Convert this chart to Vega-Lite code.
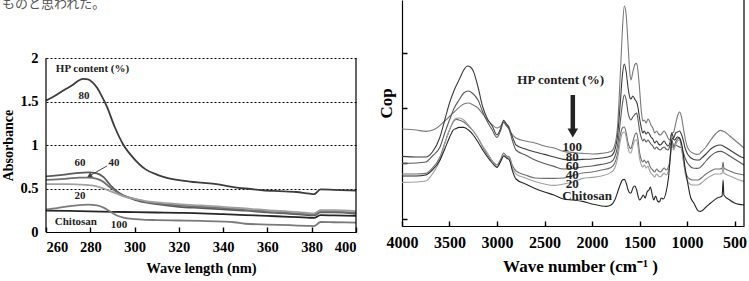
{
  "$schema": "https://vega.github.io/schema/vega-lite/v6.json",
  "autosize": {"type": "none"},
  "padding": {"left": 46, "top": 0, "right": 703, "bottom": 281},
  "background": "white",
  "title": {"text": "ものと思われた。", "anchor": "start", "frame": "bounds", "offset": -12, "font": "Noto Sans CJK JP", "fontSize": 13, "fontWeight": "normal", "color": "#555555"},
  "config": {
    "view": {"stroke": null},
    "font": "Liberation Serif",
    "axis": {"labelFont": "Liberation Serif", "labelFontWeight": "bold", "labelColor": "#000", "titleFont": "Liberation Serif", "titleFontWeight": "bold", "titleColor": "#000", "domainColor": "#000", "tickColor": "#000", "domainWidth": 1.2, "tickWidth": 1.4, "grid": false}
  },
  "bounds": "flush",
  "spacing": 46,
  "datasets": {
    "uv": [
      {"series":"80","nm":260,"abs":1.51},{"series":"80","nm":265,"abs":1.58},{"series":"80","nm":268,"abs":1.63},{"series":"80","nm":272,"abs":1.69},{"series":"80","nm":275,"abs":1.745},{"series":"80","nm":277,"abs":1.76},{"series":"80","nm":279,"abs":1.755},{"series":"80","nm":281,"abs":1.72},{"series":"80","nm":283,"abs":1.66},{"series":"80","nm":285,"abs":1.57},{"series":"80","nm":287.5,"abs":1.44},{"series":"80","nm":291,"abs":1.21},{"series":"80","nm":295,"abs":1.0},{"series":"80","nm":299.5,"abs":0.85},{"series":"80","nm":305,"abs":0.72},{"series":"80","nm":310,"abs":0.66},{"series":"80","nm":315,"abs":0.62},{"series":"80","nm":325,"abs":0.58},{"series":"80","nm":330,"abs":0.567},{"series":"80","nm":337,"abs":0.55},{"series":"80","nm":344,"abs":0.52},{"series":"80","nm":350,"abs":0.5},{"series":"80","nm":358,"abs":0.48},{"series":"80","nm":365,"abs":0.47},{"series":"80","nm":373,"abs":0.46},{"series":"80","nm":379,"abs":0.44},{"series":"80","nm":381,"abs":0.435},{"series":"80","nm":384,"abs":0.49},{"series":"80","nm":390,"abs":0.485},{"series":"80","nm":400,"abs":0.475},
      {"series":"60","nm":260,"abs":0.64},{"series":"60","nm":265,"abs":0.65},{"series":"60","nm":270,"abs":0.665},{"series":"60","nm":275,"abs":0.68},{"series":"60","nm":279,"abs":0.685},{"series":"60","nm":283,"abs":0.675},{"series":"60","nm":286,"abs":0.63},{"series":"60","nm":289,"abs":0.54},{"series":"60","nm":292,"abs":0.47},{"series":"60","nm":295,"abs":0.42},{"series":"60","nm":300,"abs":0.37},{"series":"60","nm":305,"abs":0.34},{"series":"60","nm":310,"abs":0.32},{"series":"60","nm":320,"abs":0.29},{"series":"60","nm":330,"abs":0.275},{"series":"60","nm":340,"abs":0.26},{"series":"60","nm":350,"abs":0.245},{"series":"60","nm":360,"abs":0.225},{"series":"60","nm":370,"abs":0.21},{"series":"60","nm":378,"abs":0.195},{"series":"60","nm":381,"abs":0.19},{"series":"60","nm":384,"abs":0.225},{"series":"60","nm":390,"abs":0.225},{"series":"60","nm":400,"abs":0.21},
      {"series":"40","nm":260,"abs":0.6},{"series":"40","nm":265,"abs":0.605},{"series":"40","nm":270,"abs":0.615},{"series":"40","nm":275,"abs":0.625},{"series":"40","nm":279,"abs":0.625},{"series":"40","nm":283,"abs":0.61},{"series":"40","nm":286,"abs":0.575},{"series":"40","nm":289,"abs":0.51},{"series":"40","nm":292,"abs":0.46},{"series":"40","nm":295,"abs":0.42},{"series":"40","nm":300,"abs":0.38},{"series":"40","nm":305,"abs":0.35},{"series":"40","nm":310,"abs":0.33},{"series":"40","nm":320,"abs":0.305},{"series":"40","nm":330,"abs":0.29},{"series":"40","nm":340,"abs":0.275},{"series":"40","nm":350,"abs":0.255},{"series":"40","nm":360,"abs":0.235},{"series":"40","nm":370,"abs":0.22},{"series":"40","nm":378,"abs":0.205},{"series":"40","nm":381,"abs":0.2},{"series":"40","nm":384,"abs":0.235},{"series":"40","nm":390,"abs":0.235},{"series":"40","nm":400,"abs":0.22},
      {"series":"20","nm":260,"abs":0.55},{"series":"20","nm":265,"abs":0.55},{"series":"20","nm":270,"abs":0.55},{"series":"20","nm":275,"abs":0.545},{"series":"20","nm":279,"abs":0.54},{"series":"20","nm":283,"abs":0.525},{"series":"20","nm":286,"abs":0.5},{"series":"20","nm":289,"abs":0.47},{"series":"20","nm":292,"abs":0.44},{"series":"20","nm":295,"abs":0.41},{"series":"20","nm":300,"abs":0.38},{"series":"20","nm":305,"abs":0.355},{"series":"20","nm":310,"abs":0.34},{"series":"20","nm":320,"abs":0.32},{"series":"20","nm":330,"abs":0.305},{"series":"20","nm":340,"abs":0.29},{"series":"20","nm":350,"abs":0.27},{"series":"20","nm":360,"abs":0.25},{"series":"20","nm":370,"abs":0.235},{"series":"20","nm":378,"abs":0.22},{"series":"20","nm":381,"abs":0.215},{"series":"20","nm":384,"abs":0.25},{"series":"20","nm":390,"abs":0.25},{"series":"20","nm":400,"abs":0.24},
      {"series":"Chitosan","nm":260,"abs":0.245},{"series":"Chitosan","nm":270,"abs":0.242},{"series":"Chitosan","nm":280,"abs":0.238},{"series":"Chitosan","nm":290,"abs":0.232},{"series":"Chitosan","nm":300,"abs":0.228},{"series":"Chitosan","nm":310,"abs":0.224},{"series":"Chitosan","nm":320,"abs":0.22},{"series":"Chitosan","nm":330,"abs":0.215},{"series":"Chitosan","nm":340,"abs":0.205},{"series":"Chitosan","nm":350,"abs":0.195},{"series":"Chitosan","nm":360,"abs":0.185},{"series":"Chitosan","nm":370,"abs":0.175},{"series":"Chitosan","nm":378,"abs":0.165},{"series":"Chitosan","nm":381,"abs":0.162},{"series":"Chitosan","nm":384,"abs":0.195},{"series":"Chitosan","nm":390,"abs":0.19},{"series":"Chitosan","nm":400,"abs":0.185},
      {"series":"100","nm":260,"abs":0.26},{"series":"100","nm":265,"abs":0.275},{"series":"100","nm":270,"abs":0.295},{"series":"100","nm":275,"abs":0.31},{"series":"100","nm":279,"abs":0.315},{"series":"100","nm":283,"abs":0.305},{"series":"100","nm":286,"abs":0.28},{"series":"100","nm":289,"abs":0.235},{"series":"100","nm":292,"abs":0.19},{"series":"100","nm":295,"abs":0.165},{"series":"100","nm":300,"abs":0.148},{"series":"100","nm":305,"abs":0.14},{"series":"100","nm":310,"abs":0.137},{"series":"100","nm":320,"abs":0.132},{"series":"100","nm":330,"abs":0.127},{"series":"100","nm":340,"abs":0.12},{"series":"100","nm":345,"abs":0.112},{"series":"100","nm":350,"abs":0.095},{"series":"100","nm":360,"abs":0.085},{"series":"100","nm":370,"abs":0.078},{"series":"100","nm":378,"abs":0.07},{"series":"100","nm":381,"abs":0.068},{"series":"100","nm":384,"abs":0.115},{"series":"100","nm":390,"abs":0.112},{"series":"100","nm":400,"abs":0.107}
    ],
    "uvLabels": [
      {"label":"HP content (%)","nm":281,"abs":1.874},
      {"label":"80","nm":277.2,"abs":1.563},
      {"label":"60","nm":275.4,"abs":0.793},
      {"label":"40","nm":290.7,"abs":0.793},
      {"label":"20","nm":275.4,"abs":0.414},
      {"label":"Chitosan","nm":273.5,"abs":0.115},
      {"label":"100","nm":293,"abs":0.08}
    ],
    "uvArrow": [{"nm":287.6,"abs":0.76,"nmEnd":279.6,"absEnd":0.645}],
    "ftir": [
      {"series":"100","wn":4000,"cop":48.5},{"series":"100","wn":3850,"cop":48},{"series":"100","wn":3750,"cop":47.3},{"series":"100","wn":3650,"cop":48.5},{"series":"100","wn":3550,"cop":52.5},{"series":"100","wn":3450,"cop":57},{"series":"100","wn":3350,"cop":61},{"series":"100","wn":3300,"cop":61.5},{"series":"100","wn":3250,"cop":60.5},{"series":"100","wn":3200,"cop":59},{"series":"100","wn":3150,"cop":56},{"series":"100","wn":3100,"cop":53},{"series":"100","wn":3050,"cop":50.5},{"series":"100","wn":3000,"cop":49},{"series":"100","wn":2960,"cop":50},{"series":"100","wn":2930,"cop":51.8},{"series":"100","wn":2900,"cop":50.5},{"series":"100","wn":2880,"cop":50},{"series":"100","wn":2850,"cop":46.5},{"series":"100","wn":2800,"cop":44},{"series":"100","wn":2700,"cop":42.5},{"series":"100","wn":2600,"cop":41.5},{"series":"100","wn":2500,"cop":40},{"series":"100","wn":2400,"cop":39},{"series":"100","wn":2300,"cop":37.3},{"series":"100","wn":2200,"cop":36.8},{"series":"100","wn":2100,"cop":36.3},{"series":"100","wn":2000,"cop":36},{"series":"100","wn":1900,"cop":36.3},{"series":"100","wn":1800,"cop":37.3},{"series":"100","wn":1760,"cop":40.5},{"series":"100","wn":1730,"cop":50.5},{"series":"100","wn":1700,"cop":78},{"series":"100","wn":1680,"cop":98},{"series":"100","wn":1660,"cop":110},{"series":"100","wn":1640,"cop":105.5},{"series":"100","wn":1620,"cop":90.5},{"series":"100","wn":1600,"cop":75.5},{"series":"100","wn":1590,"cop":73},{"series":"100","wn":1570,"cop":77},{"series":"100","wn":1545,"cop":81},{"series":"100","wn":1530,"cop":81.3},{"series":"100","wn":1515,"cop":77},{"series":"100","wn":1500,"cop":69},{"series":"100","wn":1480,"cop":57},{"series":"100","wn":1465,"cop":52.5},{"series":"100","wn":1450,"cop":53},{"series":"100","wn":1430,"cop":51.5},{"series":"100","wn":1410,"cop":53.5},{"series":"100","wn":1395,"cop":52.5},{"series":"100","wn":1380,"cop":50.5},{"series":"100","wn":1360,"cop":49},{"series":"100","wn":1340,"cop":46.5},{"series":"100","wn":1320,"cop":47.5},{"series":"100","wn":1300,"cop":46},{"series":"100","wn":1280,"cop":45.5},{"series":"100","wn":1260,"cop":46.5},{"series":"100","wn":1240,"cop":47.5},{"series":"100","wn":1220,"cop":46},{"series":"100","wn":1200,"cop":44},{"series":"100","wn":1180,"cop":43},{"series":"100","wn":1160,"cop":46.5},{"series":"100","wn":1140,"cop":47},{"series":"100","wn":1120,"cop":51},{"series":"100","wn":1100,"cop":55},{"series":"100","wn":1080,"cop":57},{"series":"100","wn":1060,"cop":55},{"series":"100","wn":1040,"cop":49.5},{"series":"100","wn":1020,"cop":44},{"series":"100","wn":1000,"cop":40},{"series":"100","wn":970,"cop":37.5},{"series":"100","wn":940,"cop":36.5},{"series":"100","wn":900,"cop":35.8},{"series":"100","wn":870,"cop":36},{"series":"100","wn":850,"cop":37},{"series":"100","wn":800,"cop":39.5},{"series":"100","wn":750,"cop":43},{"series":"100","wn":700,"cop":46},{"series":"100","wn":650,"cop":47.8},{"series":"100","wn":600,"cop":47},{"series":"100","wn":550,"cop":45},{"series":"100","wn":500,"cop":43},{"series":"100","wn":450,"cop":41},{"series":"100","wn":400,"cop":39},
      {"series":"80","wn":4000,"cop":34.8},{"series":"80","wn":3850,"cop":34.5},{"series":"80","wn":3750,"cop":34.5},{"series":"80","wn":3680,"cop":37},{"series":"80","wn":3600,"cop":44.5},{"series":"80","wn":3550,"cop":53},{"series":"80","wn":3500,"cop":61.5},{"series":"80","wn":3450,"cop":68},{"series":"80","wn":3400,"cop":73},{"series":"80","wn":3350,"cop":78},{"series":"80","wn":3310,"cop":80},{"series":"80","wn":3280,"cop":79.5},{"series":"80","wn":3250,"cop":77.5},{"series":"80","wn":3200,"cop":69.5},{"series":"80","wn":3150,"cop":59.5},{"series":"80","wn":3100,"cop":53.5},{"series":"80","wn":3050,"cop":50},{"series":"80","wn":3000,"cop":45.5},{"series":"80","wn":2960,"cop":49},{"series":"80","wn":2930,"cop":52.8},{"series":"80","wn":2900,"cop":51},{"series":"80","wn":2880,"cop":49.5},{"series":"80","wn":2850,"cop":46},{"series":"80","wn":2820,"cop":42.5},{"series":"80","wn":2800,"cop":40.5},{"series":"80","wn":2700,"cop":38.5},{"series":"80","wn":2600,"cop":37},{"series":"80","wn":2500,"cop":35.8},{"series":"80","wn":2400,"cop":34.5},{"series":"80","wn":2300,"cop":33.3},{"series":"80","wn":2200,"cop":33},{"series":"80","wn":2100,"cop":33.3},{"series":"80","wn":2000,"cop":33.5},{"series":"80","wn":1900,"cop":34},{"series":"80","wn":1800,"cop":35},{"series":"80","wn":1760,"cop":38},{"series":"80","wn":1730,"cop":45.5},{"series":"80","wn":1700,"cop":63},{"series":"80","wn":1680,"cop":75.5},{"series":"80","wn":1660,"cop":81},{"series":"80","wn":1640,"cop":77},{"series":"80","wn":1620,"cop":69},{"series":"80","wn":1600,"cop":64},{"series":"80","wn":1590,"cop":63.5},{"series":"80","wn":1570,"cop":65},{"series":"80","wn":1545,"cop":63},{"series":"80","wn":1530,"cop":62},{"series":"80","wn":1515,"cop":59},{"series":"80","wn":1500,"cop":54},{"series":"80","wn":1480,"cop":49},{"series":"80","wn":1465,"cop":46.5},{"series":"80","wn":1450,"cop":47.5},{"series":"80","wn":1430,"cop":46},{"series":"80","wn":1410,"cop":47},{"series":"80","wn":1395,"cop":46},{"series":"80","wn":1380,"cop":44.5},{"series":"80","wn":1360,"cop":43.5},{"series":"80","wn":1340,"cop":41.5},{"series":"80","wn":1320,"cop":42.5},{"series":"80","wn":1300,"cop":41},{"series":"80","wn":1280,"cop":40.5},{"series":"80","wn":1260,"cop":41.5},{"series":"80","wn":1240,"cop":42.5},{"series":"80","wn":1220,"cop":41},{"series":"80","wn":1200,"cop":40},{"series":"80","wn":1180,"cop":41.5},{"series":"80","wn":1160,"cop":46.5},{"series":"80","wn":1140,"cop":44},{"series":"80","wn":1120,"cop":46.5},{"series":"80","wn":1100,"cop":47},{"series":"80","wn":1080,"cop":47.5},{"series":"80","wn":1060,"cop":46},{"series":"80","wn":1040,"cop":43},{"series":"80","wn":1020,"cop":39},{"series":"80","wn":1000,"cop":36.5},{"series":"80","wn":970,"cop":34.5},{"series":"80","wn":940,"cop":33.5},{"series":"80","wn":900,"cop":33},{"series":"80","wn":870,"cop":33},{"series":"80","wn":850,"cop":33.8},{"series":"80","wn":800,"cop":36},{"series":"80","wn":750,"cop":38.5},{"series":"80","wn":700,"cop":40},{"series":"80","wn":650,"cop":40.5},{"series":"80","wn":600,"cop":39.5},{"series":"80","wn":550,"cop":38},{"series":"80","wn":500,"cop":36.5},{"series":"80","wn":450,"cop":35},{"series":"80","wn":400,"cop":34},
      {"series":"60","wn":4000,"cop":31.3},{"series":"60","wn":3850,"cop":31.5},{"series":"60","wn":3750,"cop":32},{"series":"60","wn":3680,"cop":35},{"series":"60","wn":3600,"cop":39.5},{"series":"60","wn":3550,"cop":46.5},{"series":"60","wn":3500,"cop":53},{"series":"60","wn":3450,"cop":59},{"series":"60","wn":3400,"cop":63},{"series":"60","wn":3350,"cop":66.5},{"series":"60","wn":3300,"cop":67.5},{"series":"60","wn":3250,"cop":66},{"series":"60","wn":3200,"cop":63},{"series":"60","wn":3150,"cop":57},{"series":"60","wn":3100,"cop":52},{"series":"60","wn":3050,"cop":48},{"series":"60","wn":3000,"cop":44.3},{"series":"60","wn":2960,"cop":48},{"series":"60","wn":2930,"cop":52},{"series":"60","wn":2900,"cop":50},{"series":"60","wn":2870,"cop":48},{"series":"60","wn":2840,"cop":43},{"series":"60","wn":2800,"cop":38},{"series":"60","wn":2700,"cop":35.5},{"series":"60","wn":2600,"cop":33},{"series":"60","wn":2500,"cop":31.3},{"series":"60","wn":2400,"cop":29.8},{"series":"60","wn":2300,"cop":28.5},{"series":"60","wn":2200,"cop":28.8},{"series":"60","wn":2100,"cop":29.5},{"series":"60","wn":2000,"cop":30},{"series":"60","wn":1900,"cop":30.8},{"series":"60","wn":1800,"cop":32},{"series":"60","wn":1760,"cop":34.5},{"series":"60","wn":1730,"cop":40.5},{"series":"60","wn":1700,"cop":53},{"series":"60","wn":1680,"cop":61},{"series":"60","wn":1660,"cop":65.5},{"series":"60","wn":1640,"cop":63},{"series":"60","wn":1620,"cop":56.5},{"series":"60","wn":1600,"cop":53.5},{"series":"60","wn":1590,"cop":53},{"series":"60","wn":1570,"cop":54.5},{"series":"60","wn":1545,"cop":56},{"series":"60","wn":1530,"cop":56.5},{"series":"60","wn":1515,"cop":53},{"series":"60","wn":1500,"cop":48},{"series":"60","wn":1480,"cop":44},{"series":"60","wn":1465,"cop":42.5},{"series":"60","wn":1450,"cop":43.5},{"series":"60","wn":1430,"cop":42},{"series":"60","wn":1410,"cop":43},{"series":"60","wn":1395,"cop":42},{"series":"60","wn":1380,"cop":41},{"series":"60","wn":1360,"cop":40},{"series":"60","wn":1340,"cop":38.5},{"series":"60","wn":1320,"cop":39.5},{"series":"60","wn":1300,"cop":38.5},{"series":"60","wn":1280,"cop":38},{"series":"60","wn":1260,"cop":39},{"series":"60","wn":1240,"cop":39.5},{"series":"60","wn":1220,"cop":38.5},{"series":"60","wn":1200,"cop":38},{"series":"60","wn":1180,"cop":40},{"series":"60","wn":1160,"cop":42.5},{"series":"60","wn":1140,"cop":40},{"series":"60","wn":1120,"cop":40.5},{"series":"60","wn":1100,"cop":40},{"series":"60","wn":1080,"cop":39.5},{"series":"60","wn":1060,"cop":39},{"series":"60","wn":1040,"cop":37},{"series":"60","wn":1020,"cop":34},{"series":"60","wn":1000,"cop":32},{"series":"60","wn":970,"cop":30},{"series":"60","wn":940,"cop":29},{"series":"60","wn":900,"cop":28.8},{"series":"60","wn":870,"cop":29},{"series":"60","wn":850,"cop":29.8},{"series":"60","wn":800,"cop":32.5},{"series":"60","wn":750,"cop":35},{"series":"60","wn":700,"cop":36.8},{"series":"60","wn":650,"cop":37.3},{"series":"60","wn":600,"cop":36.5},{"series":"60","wn":550,"cop":35},{"series":"60","wn":500,"cop":33.5},{"series":"60","wn":450,"cop":32},{"series":"60","wn":400,"cop":30.5},
      {"series":"40","wn":4000,"cop":26},{"series":"40","wn":3850,"cop":26},{"series":"40","wn":3750,"cop":26.3},{"series":"40","wn":3680,"cop":29},{"series":"40","wn":3600,"cop":34.5},{"series":"40","wn":3550,"cop":41.5},{"series":"40","wn":3500,"cop":48},{"series":"40","wn":3460,"cop":52},{"series":"40","wn":3430,"cop":53.3},{"series":"40","wn":3400,"cop":53},{"series":"40","wn":3350,"cop":52},{"series":"40","wn":3300,"cop":50},{"series":"40","wn":3250,"cop":47.5},{"series":"40","wn":3200,"cop":44},{"series":"40","wn":3150,"cop":39.5},{"series":"40","wn":3100,"cop":35.5},{"series":"40","wn":3050,"cop":32.5},{"series":"40","wn":3000,"cop":30.5},{"series":"40","wn":2960,"cop":33.5},{"series":"40","wn":2930,"cop":36.5},{"series":"40","wn":2900,"cop":35},{"series":"40","wn":2870,"cop":34.5},{"series":"40","wn":2840,"cop":30.5},{"series":"40","wn":2800,"cop":27.5},{"series":"40","wn":2700,"cop":25.5},{"series":"40","wn":2600,"cop":24},{"series":"40","wn":2500,"cop":23.8},{"series":"40","wn":2400,"cop":23.8},{"series":"40","wn":2300,"cop":24},{"series":"40","wn":2200,"cop":25.3},{"series":"40","wn":2100,"cop":26.5},{"series":"40","wn":2000,"cop":27},{"series":"40","wn":1900,"cop":28},{"series":"40","wn":1800,"cop":29.3},{"series":"40","wn":1760,"cop":31.5},{"series":"40","wn":1730,"cop":36.5},{"series":"40","wn":1700,"cop":46},{"series":"40","wn":1680,"cop":49},{"series":"40","wn":1660,"cop":49.5},{"series":"40","wn":1640,"cop":46.5},{"series":"40","wn":1620,"cop":41.5},{"series":"40","wn":1600,"cop":39},{"series":"40","wn":1590,"cop":38.8},{"series":"40","wn":1570,"cop":42},{"series":"40","wn":1545,"cop":46},{"series":"40","wn":1530,"cop":46.5},{"series":"40","wn":1515,"cop":43},{"series":"40","wn":1500,"cop":37},{"series":"40","wn":1480,"cop":33},{"series":"40","wn":1465,"cop":32},{"series":"40","wn":1450,"cop":33},{"series":"40","wn":1430,"cop":31.5},{"series":"40","wn":1410,"cop":32.5},{"series":"40","wn":1395,"cop":30.5},{"series":"40","wn":1380,"cop":29},{"series":"40","wn":1360,"cop":28},{"series":"40","wn":1340,"cop":27},{"series":"40","wn":1320,"cop":28.5},{"series":"40","wn":1300,"cop":27.5},{"series":"40","wn":1280,"cop":27},{"series":"40","wn":1260,"cop":28},{"series":"40","wn":1240,"cop":29},{"series":"40","wn":1220,"cop":28},{"series":"40","wn":1200,"cop":29},{"series":"40","wn":1180,"cop":33},{"series":"40","wn":1160,"cop":43},{"series":"40","wn":1140,"cop":39},{"series":"40","wn":1120,"cop":42},{"series":"40","wn":1100,"cop":43.5},{"series":"40","wn":1080,"cop":44},{"series":"40","wn":1060,"cop":40.5},{"series":"40","wn":1040,"cop":34},{"series":"40","wn":1020,"cop":28},{"series":"40","wn":1000,"cop":25},{"series":"40","wn":970,"cop":23.5},{"series":"40","wn":940,"cop":23},{"series":"40","wn":900,"cop":23},{"series":"40","wn":870,"cop":23.3},{"series":"40","wn":850,"cop":24},{"series":"40","wn":800,"cop":26},{"series":"40","wn":750,"cop":27.5},{"series":"40","wn":700,"cop":28.5},{"series":"40","wn":650,"cop":28.5},{"series":"40","wn":630,"cop":29},{"series":"40","wn":620,"cop":32},{"series":"40","wn":612,"cop":29},{"series":"40","wn":550,"cop":27.5},{"series":"40","wn":500,"cop":26.5},{"series":"40","wn":450,"cop":26},{"series":"40","wn":400,"cop":25.5},
      {"series":"20","wn":4000,"cop":21.8},{"series":"20","wn":3850,"cop":22},{"series":"20","wn":3750,"cop":22.5},{"series":"20","wn":3680,"cop":26},{"series":"20","wn":3600,"cop":33},{"series":"20","wn":3550,"cop":41},{"series":"20","wn":3500,"cop":48},{"series":"20","wn":3460,"cop":52.5},{"series":"20","wn":3430,"cop":53.8},{"series":"20","wn":3400,"cop":54},{"series":"20","wn":3350,"cop":53},{"series":"20","wn":3300,"cop":50.5},{"series":"20","wn":3250,"cop":47.5},{"series":"20","wn":3200,"cop":44},{"series":"20","wn":3150,"cop":40},{"series":"20","wn":3100,"cop":36.5},{"series":"20","wn":3050,"cop":32.5},{"series":"20","wn":3000,"cop":29.5},{"series":"20","wn":2960,"cop":32.5},{"series":"20","wn":2930,"cop":35.5},{"series":"20","wn":2900,"cop":34.5},{"series":"20","wn":2870,"cop":33.8},{"series":"20","wn":2840,"cop":29.5},{"series":"20","wn":2800,"cop":26},{"series":"20","wn":2700,"cop":24},{"series":"20","wn":2600,"cop":22.3},{"series":"20","wn":2500,"cop":21},{"series":"20","wn":2400,"cop":20.3},{"series":"20","wn":2300,"cop":21},{"series":"20","wn":2200,"cop":22},{"series":"20","wn":2100,"cop":23.8},{"series":"20","wn":2000,"cop":24.3},{"series":"20","wn":1900,"cop":25},{"series":"20","wn":1800,"cop":26.8},{"series":"20","wn":1760,"cop":29},{"series":"20","wn":1730,"cop":34},{"series":"20","wn":1700,"cop":43},{"series":"20","wn":1680,"cop":46.5},{"series":"20","wn":1660,"cop":47},{"series":"20","wn":1640,"cop":44.5},{"series":"20","wn":1620,"cop":39},{"series":"20","wn":1600,"cop":36.5},{"series":"20","wn":1590,"cop":36.5},{"series":"20","wn":1570,"cop":40},{"series":"20","wn":1545,"cop":43},{"series":"20","wn":1530,"cop":43},{"series":"20","wn":1515,"cop":39.5},{"series":"20","wn":1500,"cop":34},{"series":"20","wn":1480,"cop":30.5},{"series":"20","wn":1465,"cop":29.5},{"series":"20","wn":1450,"cop":30.5},{"series":"20","wn":1430,"cop":29},{"series":"20","wn":1410,"cop":30},{"series":"20","wn":1395,"cop":28},{"series":"20","wn":1380,"cop":26.5},{"series":"20","wn":1360,"cop":25.5},{"series":"20","wn":1340,"cop":24.5},{"series":"20","wn":1320,"cop":26},{"series":"20","wn":1300,"cop":25},{"series":"20","wn":1280,"cop":24.5},{"series":"20","wn":1260,"cop":25.5},{"series":"20","wn":1240,"cop":26.5},{"series":"20","wn":1220,"cop":25.5},{"series":"20","wn":1200,"cop":27},{"series":"20","wn":1180,"cop":31.5},{"series":"20","wn":1160,"cop":40.5},{"series":"20","wn":1140,"cop":38},{"series":"20","wn":1120,"cop":40.5},{"series":"20","wn":1100,"cop":42.5},{"series":"20","wn":1080,"cop":43},{"series":"20","wn":1060,"cop":39.5},{"series":"20","wn":1040,"cop":33},{"series":"20","wn":1020,"cop":26.5},{"series":"20","wn":1000,"cop":23},{"series":"20","wn":970,"cop":21},{"series":"20","wn":940,"cop":20.5},{"series":"20","wn":900,"cop":20.5},{"series":"20","wn":870,"cop":20.8},{"series":"20","wn":850,"cop":21.5},{"series":"20","wn":800,"cop":23.5},{"series":"20","wn":750,"cop":25},{"series":"20","wn":700,"cop":26},{"series":"20","wn":650,"cop":26},{"series":"20","wn":630,"cop":26.5},{"series":"20","wn":620,"cop":29.5},{"series":"20","wn":612,"cop":26.5},{"series":"20","wn":550,"cop":25},{"series":"20","wn":500,"cop":24},{"series":"20","wn":450,"cop":23},{"series":"20","wn":400,"cop":22.3},
      {"series":"Chitosan","wn":4000,"cop":25},{"series":"Chitosan","wn":3850,"cop":25},{"series":"Chitosan","wn":3750,"cop":25.5},{"series":"Chitosan","wn":3680,"cop":28},{"series":"Chitosan","wn":3600,"cop":33},{"series":"Chitosan","wn":3550,"cop":38.5},{"series":"Chitosan","wn":3500,"cop":44.3},{"series":"Chitosan","wn":3460,"cop":48},{"series":"Chitosan","wn":3430,"cop":48.8},{"series":"Chitosan","wn":3400,"cop":49.3},{"series":"Chitosan","wn":3350,"cop":49.3},{"series":"Chitosan","wn":3300,"cop":48},{"series":"Chitosan","wn":3250,"cop":45.5},{"series":"Chitosan","wn":3200,"cop":42},{"series":"Chitosan","wn":3150,"cop":38},{"series":"Chitosan","wn":3100,"cop":34.5},{"series":"Chitosan","wn":3050,"cop":31.5},{"series":"Chitosan","wn":3000,"cop":29.3},{"series":"Chitosan","wn":2960,"cop":32.5},{"series":"Chitosan","wn":2930,"cop":35},{"series":"Chitosan","wn":2900,"cop":34},{"series":"Chitosan","wn":2870,"cop":33},{"series":"Chitosan","wn":2840,"cop":28},{"series":"Chitosan","wn":2800,"cop":23.5},{"series":"Chitosan","wn":2700,"cop":21},{"series":"Chitosan","wn":2600,"cop":18.8},{"series":"Chitosan","wn":2500,"cop":17},{"series":"Chitosan","wn":2400,"cop":15.5},{"series":"Chitosan","wn":2300,"cop":13.5},{"series":"Chitosan","wn":2200,"cop":13},{"series":"Chitosan","wn":2100,"cop":12.3},{"series":"Chitosan","wn":2000,"cop":11},{"series":"Chitosan","wn":1900,"cop":10},{"series":"Chitosan","wn":1850,"cop":9.8},{"series":"Chitosan","wn":1800,"cop":10.5},{"series":"Chitosan","wn":1760,"cop":13},{"series":"Chitosan","wn":1730,"cop":17},{"series":"Chitosan","wn":1700,"cop":21},{"series":"Chitosan","wn":1680,"cop":23},{"series":"Chitosan","wn":1660,"cop":23.3},{"series":"Chitosan","wn":1640,"cop":21.5},{"series":"Chitosan","wn":1620,"cop":18},{"series":"Chitosan","wn":1600,"cop":16.5},{"series":"Chitosan","wn":1590,"cop":16.5},{"series":"Chitosan","wn":1570,"cop":19},{"series":"Chitosan","wn":1550,"cop":20},{"series":"Chitosan","wn":1530,"cop":18},{"series":"Chitosan","wn":1515,"cop":15},{"series":"Chitosan","wn":1500,"cop":13},{"series":"Chitosan","wn":1480,"cop":14},{"series":"Chitosan","wn":1460,"cop":15.5},{"series":"Chitosan","wn":1440,"cop":14},{"series":"Chitosan","wn":1420,"cop":17},{"series":"Chitosan","wn":1400,"cop":18},{"series":"Chitosan","wn":1385,"cop":19.5},{"series":"Chitosan","wn":1370,"cop":16.5},{"series":"Chitosan","wn":1350,"cop":13},{"series":"Chitosan","wn":1330,"cop":15},{"series":"Chitosan","wn":1310,"cop":12.5},{"series":"Chitosan","wn":1290,"cop":12},{"series":"Chitosan","wn":1270,"cop":14},{"series":"Chitosan","wn":1250,"cop":13.5},{"series":"Chitosan","wn":1220,"cop":17},{"series":"Chitosan","wn":1194,"cop":24.5},{"series":"Chitosan","wn":1170,"cop":38},{"series":"Chitosan","wn":1156,"cop":44},{"series":"Chitosan","wn":1130,"cop":43},{"series":"Chitosan","wn":1103,"cop":44.5},{"series":"Chitosan","wn":1080,"cop":44},{"series":"Chitosan","wn":1050,"cop":39.5},{"series":"Chitosan","wn":1020,"cop":29},{"series":"Chitosan","wn":998,"cop":23},{"series":"Chitosan","wn":960,"cop":14},{"series":"Chitosan","wn":928,"cop":11.5},{"series":"Chitosan","wn":880,"cop":7.5},{"series":"Chitosan","wn":858,"cop":7.3},{"series":"Chitosan","wn":800,"cop":9.5},{"series":"Chitosan","wn":750,"cop":11.5},{"series":"Chitosan","wn":682,"cop":14},{"series":"Chitosan","wn":630,"cop":15},{"series":"Chitosan","wn":620,"cop":23},{"series":"Chitosan","wn":612,"cop":15.5},{"series":"Chitosan","wn":550,"cop":13},{"series":"Chitosan","wn":500,"cop":11.5},{"series":"Chitosan","wn":450,"cop":10.8},{"series":"Chitosan","wn":400,"cop":10.5}
    ],
    "irLabels": [
      {"label":"HP content (%)","wn":2330,"cop":73},
      {"label":"100","wn":2208,"cop":39.4},
      {"label":"80","wn":2208,"cop":34.7},
      {"label":"60","wn":2208,"cop":30.2},
      {"label":"40","wn":2208,"cop":25.5},
      {"label":"20","wn":2208,"cop":21},
      {"label":"Chitosan","wn":2051,"cop":15}
    ],
    "irArrow": [{"wn":2202,"cop":65.5,"copEnd":47,"copHead":46.5}]
  },
  "hconcat": [
    {
      "width": 310,
      "height": 232,
      "layer": [
        {
          "data": {"name": "uv"},
          "mark": {"type": "line", "interpolate": "monotone", "strokeWidth": 1.8},
          "encoding": {
            "x": {"field": "nm", "type": "quantitative", "scale": {"domain": [260, 400], "nice": false, "zero": false},
              "axis": {"values": [260, 280, 300, 320, 340, 360, 380, 400], "tickSize": -5, "labelPadding": 13, "labelFontSize": 14.5, "title": "Wave length (nm)", "titleFontSize": 14.5, "titlePadding": 8}},
            "y": {"field": "abs", "type": "quantitative", "scale": {"domain": [0, 2.667], "nice": false},
              "axis": {"values": [0, 0.5, 1, 1.5, 2], "format": "~g", "grid": true, "gridDash": [2, 2], "gridColor": "#000", "gridWidth": 1, "domain": false, "ticks": false, "labelPadding": 8, "labelFontSize": 14.5, "title": "Absorbance", "titleFontSize": 14, "titlePadding": 4, "titleY": 145}},
            "color": {"field": "series", "type": "nominal", "legend": null,
              "scale": {"domain": ["80", "60", "40", "20", "Chitosan", "100"], "range": ["#3c3c3c", "#5a5a5a", "#6e6e6e", "#a0a0a0", "#262626", "#7a7a7a"]}}
          }
        },
        {
          "data": {"values": [{}]},
          "mark": {"type": "rule", "color": "#000", "strokeWidth": 1.2},
          "encoding": {"x": {"datum": 260}, "y": {"datum": 0}, "y2": {"datum": 2}}
        },
        {
          "data": {"values": [{}]},
          "mark": {"type": "rule", "color": "#000", "strokeWidth": 1.2},
          "encoding": {"x": {"datum": 400}, "y": {"datum": 0}, "y2": {"datum": 2}}
        },
        {
          "data": {"name": "uvLabels"},
          "mark": {"type": "text", "font": "Liberation Serif", "fontWeight": "bold", "fontSize": 11, "align": "center", "baseline": "middle", "color": "#222"},
          "encoding": {"x": {"field": "nm", "type": "quantitative"}, "y": {"field": "abs", "type": "quantitative"}, "text": {"field": "label"}}
        },
        {
          "data": {"name": "uvArrow"},
          "mark": {"type": "rule", "color": "#444", "strokeWidth": 1},
          "encoding": {"x": {"field": "nm", "type": "quantitative"}, "y": {"field": "abs", "type": "quantitative"}, "x2": {"field": "nmEnd"}, "y2": {"field": "absEnd"}}
        },
        {
          "data": {"name": "uvArrow"},
          "mark": {"type": "point", "shape": "triangle-up", "angle": 240, "size": 30, "filled": true, "color": "#444", "opacity": 1},
          "encoding": {"x": {"field": "nmEnd", "type": "quantitative"}, "y": {"field": "absEnd", "type": "quantitative"}}
        }
      ]
    },
    {
      "width": 342,
      "height": 226,
      "layer": [
        {
          "data": {"name": "ftir"},
          "mark": {"type": "line", "interpolate": "monotone", "strokeWidth": 1.1},
          "encoding": {
            "x": {"field": "wn", "type": "quantitative", "scale": {"domain": [400, 4000], "reverse": true, "nice": false, "zero": false},
              "axis": {"values": [4000, 3750, 3500, 3250, 3000, 2750, 2500, 2250, 2000, 1750, 1500, 1250, 1000, 750, 500], "format": "d", "labelExpr": "datum.value % 500 === 0 ? datum.label : ''", "tickSize": -5, "labelPadding": 13, "labelFontSize": 16, "labelFlush": false, "labelOverlap": false, "title": "Wave number (cm⁻¹ )", "titleFontSize": 17, "titlePadding": 8, "titleX": 178}},
            "y": {"field": "cop", "type": "quantitative", "scale": {"domain": [0, 113], "nice": false},
              "axis": {"values": [3.7, 10.6, 17.5, 24.4, 31.3, 38.2, 45.1, 52, 58.9, 65.8, 72.7, 79.6, 86.5, 93.4, 100.3, 107.2], "labels": false, "tickSize": -5, "tickWidth": 1.5, "title": "Cop", "titleFontSize": 17, "titlePadding": 6, "titleY": 103}},
            "color": {"field": "series", "type": "nominal", "legend": null,
              "scale": {"domain": ["100", "80", "60", "40", "20", "Chitosan"], "range": ["#454545", "#555555", "#5f5f5f", "#353535", "#a8a8a8", "#222222"]}}
          }
        },
        {
          "data": {"values": [{}]},
          "mark": {"type": "rule", "color": "#000", "strokeWidth": 1.2},
          "encoding": {"x": {"datum": 400}}
        },
        {
          "data": {"name": "irLabels"},
          "mark": {"type": "text", "font": "Liberation Serif", "fontWeight": "bold", "fontSize": 13, "align": "center", "baseline": "middle", "color": "#222"},
          "encoding": {"x": {"field": "wn", "type": "quantitative"}, "y": {"field": "cop", "type": "quantitative"}, "text": {"field": "label"}}
        },
        {
          "data": {"name": "irArrow"},
          "mark": {"type": "rule", "color": "#222", "strokeWidth": 4.5},
          "encoding": {"x": {"field": "wn", "type": "quantitative"}, "y": {"field": "cop", "type": "quantitative"}, "y2": {"field": "copEnd"}}
        },
        {
          "data": {"name": "irArrow"},
          "mark": {"type": "point", "shape": "triangle-down", "size": 110, "filled": true, "color": "#222", "opacity": 1},
          "encoding": {"x": {"field": "wn", "type": "quantitative"}, "y": {"field": "copHead", "type": "quantitative"}}
        }
      ]
    }
  ]
}
